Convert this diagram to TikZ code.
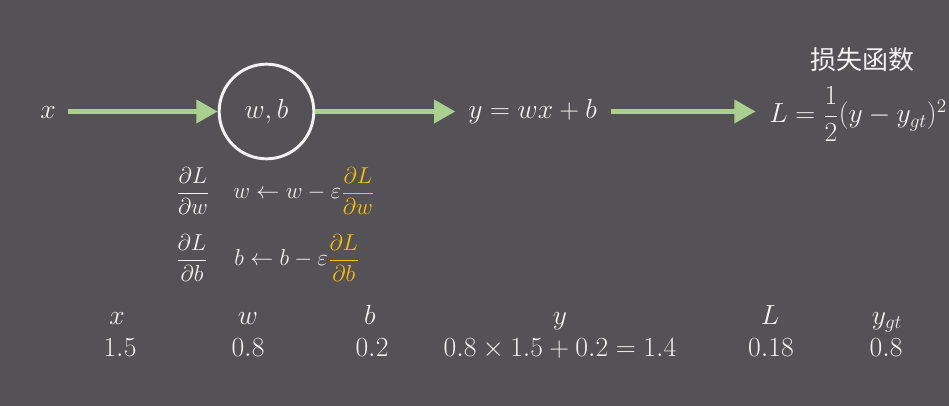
\documentclass[tikz,border=0pt]{standalone}
\usepackage[no-math]{fontspec}
\setmainfont{Carlito}
\newfontfamily\cjk{Noto Sans CJK SC}
\usepackage{amsmath}
\usetikzlibrary{arrows.meta}
\definecolor{bg}{RGB}{84,82,86}
\definecolor{grn}{RGB}{169,208,142}
\definecolor{gold}{RGB}{255,192,0}
\definecolor{txt}{RGB}{242,242,242}
\tikzset{
  arr/.style={draw=grn, line width=3.6pt, -{Triangle[length=16pt,width=17pt]}},
  lab/.style={text=txt, inner sep=0pt, font=\fontsize{20.5}{24}\selectfont},
  grad/.style={text=txt, inner sep=0pt, font=\fontsize{16}{19}\selectfont},
  val/.style={text=txt, inner sep=0pt, anchor=base, font=\fontsize{20.5}{24}\selectfont},
  neuron/.style={circle, draw=txt, line width=2.2pt, minimum size=71pt, inner sep=0pt, text=txt, font=\fontsize{20.5}{24}\selectfont},
}
\begin{document}
\begin{tikzpicture}[x=0.75pt,y=-0.75pt]
\fill[bg] (0,0) rectangle (949,406);
\useasboundingbox (0,0) rectangle (949,406);
\clip (0,0) rectangle (949,406);
% main row
\node[lab, anchor=base] (x) at (48,119) {$x$};
\node[neuron] (c) at (266.5,111.5) {$w,b$};
\node[lab, anchor=base west] (y) at (468,119) {$y=wx+b$};
\node[lab, anchor=base west] (L) at (769,123) {$L=\dfrac{1}{2}(y-y_{gt})^2$};
\node[text=txt, inner sep=0pt, font=\cjk\fontsize{19.5}{23}\selectfont] (cn) at (862,60) {损失函数};
\draw[arr, shorten <=9pt] (x.east |- c.west) -- (c.west);
\draw[arr, shorten >=9.5pt] (c.east) -- (y.west |- c.east);
\draw[arr, shorten <=10pt, shorten >=10pt] (y.east |- c.east) -- (L.west |- c.east);
% gradients
\node[grad] (dw) at (193,191) {$\dfrac{\partial L}{\partial w}$};
\node[grad, anchor=west] (uw) at (233,191) {$w\leftarrow w-\varepsilon\textcolor{gold}{\dfrac{\partial L}{\partial w}}$};
\node[grad] (db) at (192,258) {$\dfrac{\partial L}{\partial b}$};
\node[grad, anchor=west] (ub) at (234,258) {$b\leftarrow b-\varepsilon\textcolor{gold}{\dfrac{\partial L}{\partial b}}$};
% table
\node[lab, anchor=base] (tx) at (117,324) {$x$};
\node[lab, anchor=base] (tw) at (248,324) {$w$};
\node[lab, anchor=base] (tb) at (370,324) {$b$};
\node[lab, anchor=base] (ty) at (560,324) {$y$};
\node[lab, anchor=base] (tL) at (770,324) {$L$};
\node[lab, anchor=base] (tg) at (887,324) {$y_{gt}$};
\node[val] (vx) at (120,356) {$1.5$};
\node[val] (vw) at (248,356) {$0.8$};
\node[val] (vb) at (372,356) {$0.2$};
\node[val] (vy) at (560,356) {$0.8\times1.5+0.2=1.4$};
\node[val] (vL) at (771,356) {$0.18$};
\node[val] (vg) at (886,356) {$0.8$};
\end{tikzpicture}
\end{document}
